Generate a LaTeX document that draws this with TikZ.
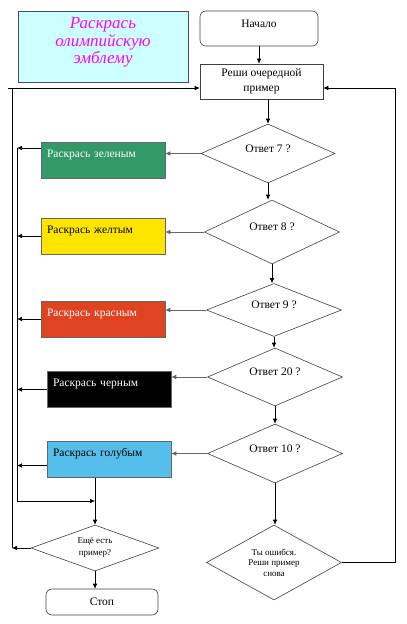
\documentclass[tikz,border=0pt]{standalone}
\usepackage{fontspec}
\setmainfont{Liberation Serif}
\usetikzlibrary{shapes.geometric,arrows.meta}
\definecolor{titlefill}{HTML}{CCFFFF}
\definecolor{titletext}{HTML}{FF00FF}
\definecolor{paintgreen}{HTML}{339966}
\definecolor{paintyellow}{HTML}{FFE400}
\definecolor{paintred}{HTML}{E04321}
\definecolor{paintblue}{HTML}{55BEEA}
\tikzset{
	every node/.style={font=\fontsize{11.5}{15}\selectfont},
	block/.style={rectangle,draw=black!75,line width=0.6pt,align=center,inner sep=2pt},
	terminal/.style={block,rounded corners=6pt},
	paint/.style={rectangle,draw=black!60,line width=0.5pt,minimum width=124pt,text width=112pt,
		inner xsep=6pt,inner ysep=3pt,text height=12pt,text depth=18pt,align=left},
	decision/.style={diamond,draw=black!75,line width=0.6pt,inner sep=0pt,aspect=1.8,align=center},
	answer/.style={decision,minimum width=135pt,text height=8pt,text depth=11pt},
	flow/.style={-{Latex[length=5pt,width=4.5pt]},line width=0.6pt},
	side/.style={flow,draw=black!60}
}
\newcommand{\paintbox}[4][]{\node[paint,#1] at (#2) (#3) {#4}}
\newcommand{\question}[4][]{\node[answer,#1] at (#2) (#3) {#4}}

\begin{document}
\begin{tikzpicture}[x=1pt,y=-1pt]
			\useasboundingbox (0,0) rectangle (407,624);
			\node[block,fill=titlefill,draw=black!70,minimum width=170pt,minimum height=71pt,
				text=titletext,font=\fontsize{17}{17.5}\selectfont\itshape] (emblem) at (103,46.5)
				{Раскрась\\олимпийскую\\эмблему\\[-6pt]};
			\node[terminal,minimum width=118pt,minimum height=35pt,text height=8pt,text depth=11pt] (start) at (259,28.5) {Начало};
			\node[block,minimum width=123pt,minimum height=35pt] (solve) at (261.5,81.5) {Реши очередной\\пример};
			\question[minimum width=134pt,minimum height=59pt]{268,153.5}{q7}{Ответ 7 ?};
			\question[minimum height=64pt]{272,232}{q8}{Ответ 8 ?};
			\question[minimum height=53pt]{274,310}{q9}{Ответ 9 ?};
			\question[minimum height=58pt]{275,377}{q20}{Ответ 20 ?};
			\question[minimum height=59pt]{275,453.5}{q10}{Ответ 10 ?};
			\node[decision,minimum width=135pt,minimum height=75pt,font=\fontsize{9}{10.5}\selectfont] (wrong) at (274,562.5)
				{Ты ошибся.\\Реши пример\\снова};
			\node[decision,minimum width=128pt,minimum height=46pt,font=\fontsize{9}{12}\selectfont] (more) at (95,548)
				{Ещё есть\\пример?};
			\node[terminal,minimum width=112pt,minimum height=26pt] (stop) at (102,602) {Стоп};
			\paintbox[fill=paintgreen,text=white]{103,160}{pgreen}{Раскрась зеленым};
			\paintbox[fill=paintyellow]{103,236}{pyellow}{Раскрась желтым};
			\paintbox[fill=paintred,text=white]{103,319}{pred}{Раскрась красным};
			\paintbox[fill=black,text=white]{109,389.5}{pblack}{Раскрась черным};
			\paintbox[fill=paintblue]{109,459.5}{pblue}{Раскрась голубым};
			\coordinate (railL) at (17,148);
			\coordinate (merge) at (95,501);
			\coordinate (loopL) at (12,88);
			\coordinate (stub) at (8,88);
			\coordinate (loopR) at (395,88);
			\coordinate (blueout) at ([yshift=-6pt]pblue.west);
			% main column
			\draw[flow] (start.south) -- (start.south |- solve.north);
			\draw[flow] (q7.north |- solve.south) -- (q7.north);
			\draw[flow] (q7.south) -- (q7.south |- q8.north);
			\draw[flow] (q8.south) -- (q8.south |- q9.north);
			\draw[flow] (q9.south) -- (q9.south |- q20.north);
			\draw[flow] (q20.south) -- (q20.south |- q10.north);
			\draw[flow] (q10.south) -- (q10.south |- wrong.north);
			% answers
			\draw[side] (q7.west) -- (q7.west -| pgreen.east);
			\draw[side] (q8.west) -- (q8.west -| pyellow.east);
			\draw[side] (q9.west) -- (q9.west -| pred.east);
			\draw[side] (q20.west) -- (q20.west -| pblack.east);
			\draw[side] (q10.west) -- (q10.west -| pblue.east);
			\draw[flow] ([yshift=12pt]pgreen.west) -- (railL);
			\draw[flow] (pyellow.west) -- (pyellow.west -| railL);
			\draw[flow] (pred.west) -- (pred.west -| railL);
			\draw[flow] (pblack.west) -- (pblack.west -| railL);
			\draw[flow] (blueout) -- (blueout -| railL);
			\draw (railL) -- (railL |- merge);
			\draw[flow] (railL |- merge) -- (merge);
			\draw[flow] (merge |- pblue.south) -- (more.north);
			\draw[flow] (more.south) -- (more.south |- stop.north);
			% loops back
			\draw[flow] (more.west) -- (loopL |- more.west);
			\draw (loopL |- more.west) -- (loopL);
			\draw[flow] (stub) -- (stub -| solve.west);
			\draw[flow] (wrong.east) -- (wrong.east -| loopR) -- (loopR) -- (loopR -| solve.east);
			%\draw[help lines] (0,0) grid[step=50] (407,624);
\end{tikzpicture}
\end{document}
